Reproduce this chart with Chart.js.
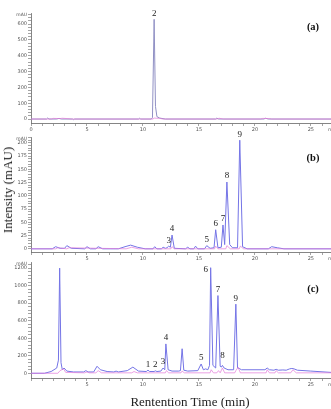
<!DOCTYPE html>
<html>
<head>
<meta charset="utf-8">
<script src="https://cdn.jsdelivr.net/npm/chart.js@4"></script>
<style>
  body { margin: 0; background: #fff; }
  #wrap { position: relative; width: 331px; height: 409px; overflow: hidden; }
  canvas { position: absolute; left: 0; }
  .title { position: absolute; font-family: "Liberation Serif", serif; font-size: 13px; color: #222; white-space: nowrap; }
  .panel { position: absolute; font-family: "Liberation Serif", serif; font-size: 10.5px; font-weight: bold; color: #111; transform: translate(-50%, -50%); }
</style>
</head>
<body>
<div id="wrap">
  <canvas id="ca" width="331" height="132" style="top:3px"></canvas>
  <canvas id="cb" width="331" height="137" style="top:127px"></canvas>
  <canvas id="cc" width="331" height="138" style="top:252px"></canvas>
  <div class="title" style="left:7.5px; top:190px; transform:translate(-50%,-50%) rotate(-90deg)">Intensity (mAU)</div>
  <div class="title" style="left:190px; top:402px; transform:translate(-50%,-50%)">Rentention Time (min)</div>
  <div class="panel" style="left:313px; top:25.5px">(a)</div>
  <div class="panel" style="left:313px; top:156.5px">(b)</div>
  <div class="panel" style="left:313px; top:288px">(c)</div>
</div>
<script>
// ---- panel (a): standard
const timeA = [0, 1.4, 1.5, 1.6, 2.3, 2.5, 2.7, 3.7, 3.8, 3.9, 9.6, 9.7, 9.8, 10.75, 10.85, 11.0, 11.12, 11.25, 11.5, 12.0, 16.5, 16.6, 16.75, 20.8, 20.95, 21.2, 26.8];
const sigA  = [0, 0, 7, 0, 0, 4, 0, 0, -4, 0, 0, 5, 0, 0, 8, 630, 80, 15, 6, 0, 0, 6, 0, 0, 5, 0, 0];
const timeA2 = [0, 1.8, 2.0, 2.6, 2.8, 3.4, 3.6, 10.9, 11.0, 11.5, 11.8, 16.6, 16.8, 17.2, 20.5, 20.7, 21.3, 21.5, 26.8];
const sigA2  = [0, 0, 4, 3, 5, 2, 0, 0, 6, 4, 0, 0, 5, 0, 0, 4, 3, 0, 0];
const peakNamesA = ['2'];
const peakTimesA = [11.0];
const peakTopsA  = [630];
const yTicksA = [0, 100, 200, 300, 400, 500, 600];

// ---- panel (b)
const timeB = [0, 1.9, 2.2, 2.6, 3.0, 3.2, 3.6, 4.8, 5.0, 5.3, 5.8, 6.0, 6.4, 7.8, 8.4, 8.9, 9.5, 10.2, 10.9, 11.05, 11.25, 11.65, 11.8, 12.0, 12.15, 12.3, 12.45, 12.6, 12.8, 13.8, 14.0, 14.2, 14.55, 14.7, 14.9, 15.5, 15.7, 16.0, 16.35, 16.5, 16.7, 17.0, 17.15, 17.3, 17.5, 17.75, 18.0, 18.45, 18.65, 18.9, 19.3, 21.2, 21.5, 22.0, 22.6, 26.8];
const sigB  = [0, 0, 4, 1, 1, 6, 1, 0, 4, 0, 0, 4, 0, 0, 4, 7, 3, 0, 0, 4, 0, 0, 3, 1, 2, 5, 3, 26, 1, 0, 3, 0, 0, 5, 0, 0, 6, 1, 2, 36, 2, 3, 45, 8, 126, 8, 2, 2, 205, 4, 0, 0, 4, 2, 0, 0];
const timeB2 = [0, 2.2, 2.4, 3.2, 3.4, 8.5, 9.0, 9.6, 12.5, 12.6, 12.8, 16.4, 16.5, 16.7, 17.4, 17.5, 17.8, 18.6, 18.7, 19.0, 26.8];
const sigB2  = [0, 0, 2, 0, 2, 0, 3, 0, 0, 4, 0, 0, 5, 0, 0, 6, 0, 0, 5, 0, 0];
const peakNamesB = ['3', '4', '5', '6', '7', '8', '9'];
const peakTimesB = [12.3, 12.6, 15.7, 16.5, 17.15, 17.5, 18.65];
const peakTopsB  = [5, 26, 6, 36, 45, 126, 205];
const yTicksB = [0, 25, 50, 75, 100, 125, 150, 175, 200];

// ---- panel (c)
const timeC = [0, 1.2, 1.8, 2.3, 2.45, 2.56, 2.68, 2.8, 2.95, 3.2, 3.8, 4.7, 4.9, 5.1, 5.6, 5.9, 6.2, 6.8, 7.4, 7.6, 7.8, 8.6, 9.1, 9.6, 10.3, 10.45, 10.6, 11.0, 11.1, 11.25, 11.6, 11.8, 11.95, 12.05, 12.25, 12.6, 13.2, 13.35, 13.5, 13.65, 14.0, 14.9, 15.2, 15.4, 15.6, 15.8, 15.95, 16.05, 16.25, 16.5, 16.7, 16.9, 17.0, 17.1, 17.25, 17.6, 18.1, 18.3, 18.45, 18.6, 18.8, 20.9, 21.1, 21.3, 21.7, 21.9, 22.1, 22.5, 22.8, 23.1, 23.3, 23.5, 23.8, 25.0, 26.8];
const sigC  = [0, 0, 20, 60, 150, 1200, 120, 40, 60, 25, 15, 15, 30, 15, 15, 80, 40, 20, 15, 25, 15, 30, 70, 25, 20, 35, 20, 20, 28, 20, 25, 60, 40, 335, 40, 25, 25, 30, 280, 35, 25, 30, 106, 40, 50, 40, 90, 1205, 90, 60, 887, 80, 70, 90, 60, 40, 40, 789, 60, 55, 40, 40, 60, 40, 35, 45, 35, 38, 35, 50, 55, 50, 35, 25, 10];
const timeC2 = [0, 2.4, 2.6, 2.9, 3.1, 4.8, 5.0, 5.2, 5.8, 6.0, 6.3, 9.0, 9.2, 9.5, 12.0, 12.1, 12.3, 13.4, 13.5, 13.7, 16.0, 16.1, 16.3, 16.6, 16.75, 16.9, 17.1, 17.3, 18.2, 18.3, 18.5, 18.7, 21.0, 21.1, 21.3, 21.8, 21.9, 22.1, 23.2, 23.4, 23.7, 26.8];
const sigC2  = [0, 0, 30, 50, 10, 5, 15, 5, 5, 30, 5, 5, 20, 5, 5, 30, 5, 5, 25, 5, 5, 40, 5, 5, 30, 5, 60, 5, 5, 30, 70, 5, 5, 40, 5, 5, 30, 5, 5, 40, 5, 5];
const peakNamesC = ['1', '2', '3', '4', '5', '6', '7', '8', '9'];
const peakTimesC = [10.45, 11.1, 11.8, 12.05, 15.2, 16.05, 16.7, 17.1, 18.3];
const peakTopsC  = [35, 28, 60, 335, 106, 1205, 887, 130, 789];
const yTicksC = [0, 200, 400, 600, 800, 1000, 1200];

const xTicksA = [0, 5, 10, 15, 20, 25];
const xTicksBC = [5, 10, 15, 20, 25];

const AXIS = '#666';
const TICKTXT = '#555';
const BLUE = '#7474e6';
const PINK = '#e27ad8';

const pts = (t, v) => t.map((x, i) => ({x: x, y: v[i]}));

const peakLabels = {
  id: 'peakLabels',
  afterDatasetsDraw(chart, args, opts) {
    const {ctx, chartArea, scales: {x, y}} = chart;
    ctx.save();
    ctx.fillStyle = '#222';
    ctx.font = '9px "Liberation Serif", serif';
    ctx.textAlign = 'center';
    ctx.textBaseline = 'bottom';
    opts.names.forEach((n, i) => {
      const px = x.getPixelForValue(opts.times[i]);
      const py = y.getPixelForValue(opts.tops[i]) - 1.5;
      if ((opts.side || []).includes(n)) {
        // label beside the peak when it reaches the top of the frame
        ctx.fillText(n, px - 5, py + 8);
      } else {
        ctx.fillText(n, px, py);
      }
    });
    // axis unit labels
    ctx.font = '4.5px "DejaVu Sans", sans-serif';
    ctx.fillStyle = TICKTXT;
    ctx.textAlign = 'right';
    ctx.textBaseline = 'middle';
    ctx.fillText('mAU', chartArea.left - 4, chartArea.top + 1.5);
    ctx.textAlign = 'left';
    ctx.fillText('min', chartArea.right - 3, chartArea.bottom + 7);
    ctx.restore();
  }
};

function makeChart(id, blue, pink, color, yMin, yMax, yMajor, yMinor, xMajor, peaks) {
  return new Chart(document.getElementById(id), {
    type: 'line',
    data: {
      datasets: [
        {data: pink, borderColor: PINK, borderWidth: 0.7, pointRadius: 0, tension: 0},
        {data: blue, borderColor: color, borderWidth: 1, pointRadius: 0, tension: 0}
      ]
    },
    options: {
      animation: false,
      responsive: false,
      maintainAspectRatio: false,
      layout: {padding: {top: 10, right: 0, left: 0, bottom: 0}},
      plugins: {legend: {display: false}, tooltip: {enabled: false}, peakLabels: peaks},
      scales: {
        x: {
          type: 'linear', min: 0, max: 26.8,
          border: {color: AXIS, width: 0.8},
          grid: {drawOnChartArea: false, tickLength: 3, color: AXIS, lineWidth: 0.6},
          afterBuildTicks: s => { s.ticks = []; for (let v = 0; v <= 26; v++) s.ticks.push({value: v}); },
          ticks: {autoSkip: false, maxRotation: 0, padding: 1, color: TICKTXT,
                  font: {size: 5, family: '"DejaVu Sans", sans-serif'},
                  callback: v => xMajor.includes(v) ? String(v) : ''},
          afterFit: s => { s.height = 12; }
        },
        y: {
          min: yMin, max: yMax,
          border: {color: AXIS, width: 0.8},
          grid: {drawOnChartArea: false, tickLength: 3, color: AXIS, lineWidth: 0.6},
          afterBuildTicks: s => { s.ticks = []; for (let v = 0; v <= yMax; v += yMinor) s.ticks.push({value: v}); },
          ticks: {autoSkip: false, padding: 1, color: TICKTXT,
                  font: {size: 5, family: '"DejaVu Sans", sans-serif'},
                  callback: v => yMajor.includes(v) ? String(v) : ''},
          afterFit: s => { s.width = 31; }
        }
      }
    },
    plugins: [peakLabels]
  });
}

makeChart('ca', pts(timeA, sigA), pts(timeA2, sigA2), '#9090c4', -25, 670, yTicksA, 20, xTicksA,
  {names: peakNamesA, times: peakTimesA, tops: peakTopsA});
makeChart('cb', pts(timeB, sigB), pts(timeB2, sigB2), BLUE, -6, 211, yTicksB, 5, xTicksBC,
  {names: peakNamesB, times: peakTimesB, tops: peakTopsB});
makeChart('cc', pts(timeC, sigC), pts(timeC2, sigC2), BLUE, -54, 1270, yTicksC, 40, xTicksBC,
  {names: peakNamesC, times: peakTimesC, tops: peakTopsC, side: ['6']});
</script>
</body>
</html>
